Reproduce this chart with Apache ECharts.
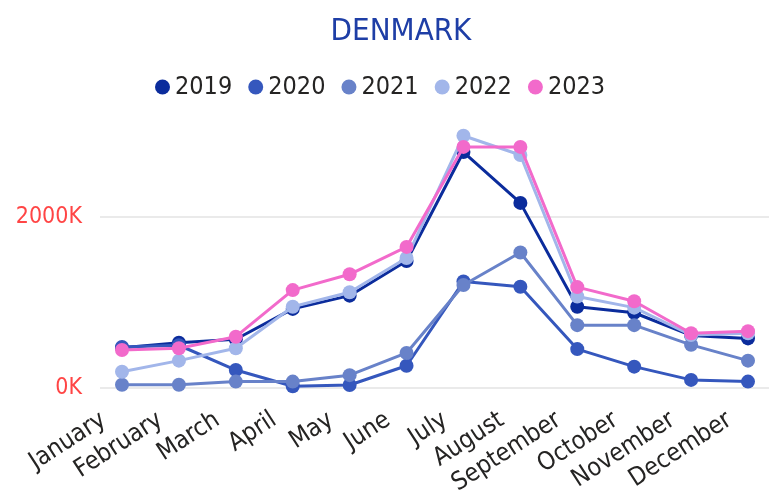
<!DOCTYPE html>
<html>
<head>
<meta charset="utf-8">
<script src="https://cdn.jsdelivr.net/npm/echarts@6/dist/echarts.min.js"></script>
<style>
  html, body { margin: 0; padding: 0; background: #fff; }
  #chart { width: 769px; height: 498px; }
</style>
</head>
<body>
<div id="chart"></div>
<script>
// monthly values, in thousands
const months = ['January', 'February', 'March', 'April', 'May', 'June', 'July',
  'August', 'September', 'October', 'November', 'December'];
const years = ['2019', '2020', '2021', '2022', '2023'];
const y2019 = [470, 530, 570, 925, 1080, 1485, 2760, 2165, 950, 880, 615, 580];
const y2020 = [480, 500, 210, 20, 35, 260, 1245, 1185, 455, 250, 95, 75];
const y2021 = [38, 38, 75, 75, 150, 410, 1205, 1585, 735, 735, 505, 320];
const y2022 = [190, 320, 465, 950, 1120, 1520, 2950, 2725, 1070, 940, 620, 640];
const y2023 = [445, 465, 600, 1145, 1330, 1650, 2820, 2820, 1180, 1015, 640, 665];
const yTicks = [0, 2000];

const colors = ['#0B2C9C', '#3557BD', '#6882C9', '#A2B6EA', '#F26ACB'];
const FONT = "'DejaVu Sans Condensed', 'DejaVu Sans', sans-serif";

const chart = echarts.init(document.getElementById('chart'));

const seriesData = [y2019, y2020, y2021, y2022, y2023];

// grid 0 holds the lines, grid 1 is only the wider gridlines + y labels
const gridTop = 131.5, gridBottom = 110;

const option = {
  animation: false,
  color: colors,
  title: {
    text: 'DENMARK',
    left: 396,
    textAlign: 'center',
    top: 11,
    textStyle: { color: '#1E3EA6', fontSize: 31, fontWeight: 'normal', fontFamily: FONT }
  },
  legend: {
    data: years,
    left: 150,
    top: 69.5,
    icon: 'circle',
    itemWidth: 15,
    itemHeight: 15,
    itemGap: 16,
    textStyle: { color: '#252423', fontSize: 25, fontFamily: FONT }
  },
  grid: [
    { left: 122, right: 21, top: gridTop, bottom: gridBottom, outerBoundsMode: 'none' },
    { left: 100, right: 0, top: gridTop, bottom: gridBottom, outerBoundsMode: 'none' }
  ],
  xAxis: [
    {
      type: 'category',
      gridIndex: 0,
      data: months,
      boundaryGap: false,
      axisLine: { show: false },
      axisTick: { show: false },
      axisLabel: {
        rotate: 33,
        margin: 18,
        interval: 0,
        padding: [0, 22, 0, 0],
        color: '#252423',
        fontSize: 25,
        fontFamily: FONT
      }
    },
    { type: 'value', gridIndex: 1, show: false, min: 0, max: 1 }
  ],
  yAxis: [
    { type: 'value', gridIndex: 0, min: 0, max: 3000, show: false },
    {
      type: 'value',
      gridIndex: 1,
      min: 0,
      max: 3000,
      interval: yTicks[1] - yTicks[0],
      axisLine: { show: false },
      axisTick: { show: false },
      axisLabel: {
        margin: 18,
        color: '#FF4545',
        fontSize: 23,
        fontFamily: FONT,
        showMaxLabel: false,
        formatter: v => (yTicks.indexOf(v) >= 0 ? v + 'K' : '')
      },
      splitLine: { showMaxLine: false, lineStyle: { color: '#EAEAEA', width: 2 } }
    }
  ],
  series: years.map((name, i) => ({
    name: name,
    type: 'line',
    xAxisIndex: 0,
    yAxisIndex: 0,
    data: seriesData[i],
    symbol: 'circle',
    symbolSize: 14,
    lineStyle: { width: 3 },
    z: 3 + i
  }))
};

chart.setOption(option);
</script>
</body>
</html>
